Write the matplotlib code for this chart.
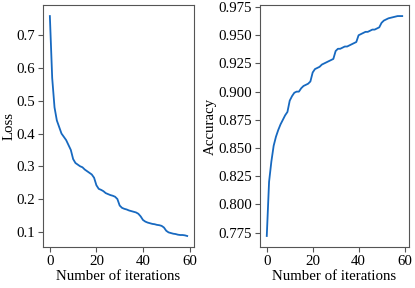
import numpy as np
import matplotlib
matplotlib.use('Agg')
import matplotlib.pyplot as plt

# Training curves
iterations = np.arange(60)
loss = [0.759, 0.57, 0.48, 0.44, 0.42, 0.40, 0.39, 0.38, 0.365, 0.35,
        0.322, 0.31, 0.305, 0.30, 0.297, 0.29, 0.285, 0.28, 0.275, 0.265,
        0.242, 0.231, 0.228, 0.224, 0.218, 0.215, 0.212, 0.21, 0.207, 0.2,
        0.18, 0.173, 0.17, 0.168, 0.165, 0.163, 0.161, 0.159, 0.155, 0.147,
        0.136, 0.131, 0.128, 0.126, 0.124, 0.123, 0.121, 0.12, 0.118, 0.113,
        0.103, 0.098, 0.096, 0.094, 0.093, 0.091, 0.09, 0.09, 0.089, 0.087]
accuracy = [0.772, 0.82, 0.838, 0.852, 0.860, 0.866, 0.871, 0.875, 0.879, 0.882,
            0.892, 0.896, 0.899, 0.900, 0.900, 0.903, 0.905, 0.906, 0.907, 0.909,
            0.917, 0.920, 0.921, 0.922, 0.924, 0.925, 0.926, 0.927, 0.928, 0.929,
            0.936, 0.938, 0.938, 0.939, 0.940, 0.940, 0.941, 0.942, 0.943, 0.944,
            0.950, 0.951, 0.952, 0.953, 0.953, 0.954, 0.955, 0.955, 0.956, 0.957,
            0.961, 0.963, 0.964, 0.965, 0.9655, 0.966, 0.9665, 0.967, 0.967, 0.967]

plt.rcParams['font.family'] = ['Liberation Serif', 'DejaVu Serif']
plt.rcParams['font.size'] = 10.7

fig = plt.figure(figsize=(4.15, 2.88), dpi=100)
ax1 = fig.add_axes([0.1036, 0.1424, 0.364, 0.840])
ax2 = fig.add_axes([0.6265, 0.1424, 0.359, 0.840])

line_color = '#1769c0'
spine_color = '#555555'

ax1.plot(iterations, loss, color=line_color, lw=1.3)
ax1.set_ylabel('Loss', labelpad=1)
ax1.set_yticks([0.1, 0.2, 0.3, 0.4, 0.5, 0.6, 0.7])

ax2.plot(iterations, accuracy, color=line_color, lw=1.3)
ax2.set_ylabel('Accuracy', labelpad=1)
ax2.set_yticks(np.arange(0.775, 0.976, 0.025))
ax2.yaxis.set_major_formatter(matplotlib.ticker.FormatStrFormatter('%.3f'))

for ax in (ax1, ax2):
    ax.set_xlabel('Number of iterations', labelpad=2)
    ax.set_xticks([0, 20, 40, 60])
    ax.tick_params(colors=spine_color, labelcolor='black', length=3.5, pad=2)
    for s in ax.spines.values():
        s.set_color(spine_color)

fig.savefig('out.png', dpi=100)
